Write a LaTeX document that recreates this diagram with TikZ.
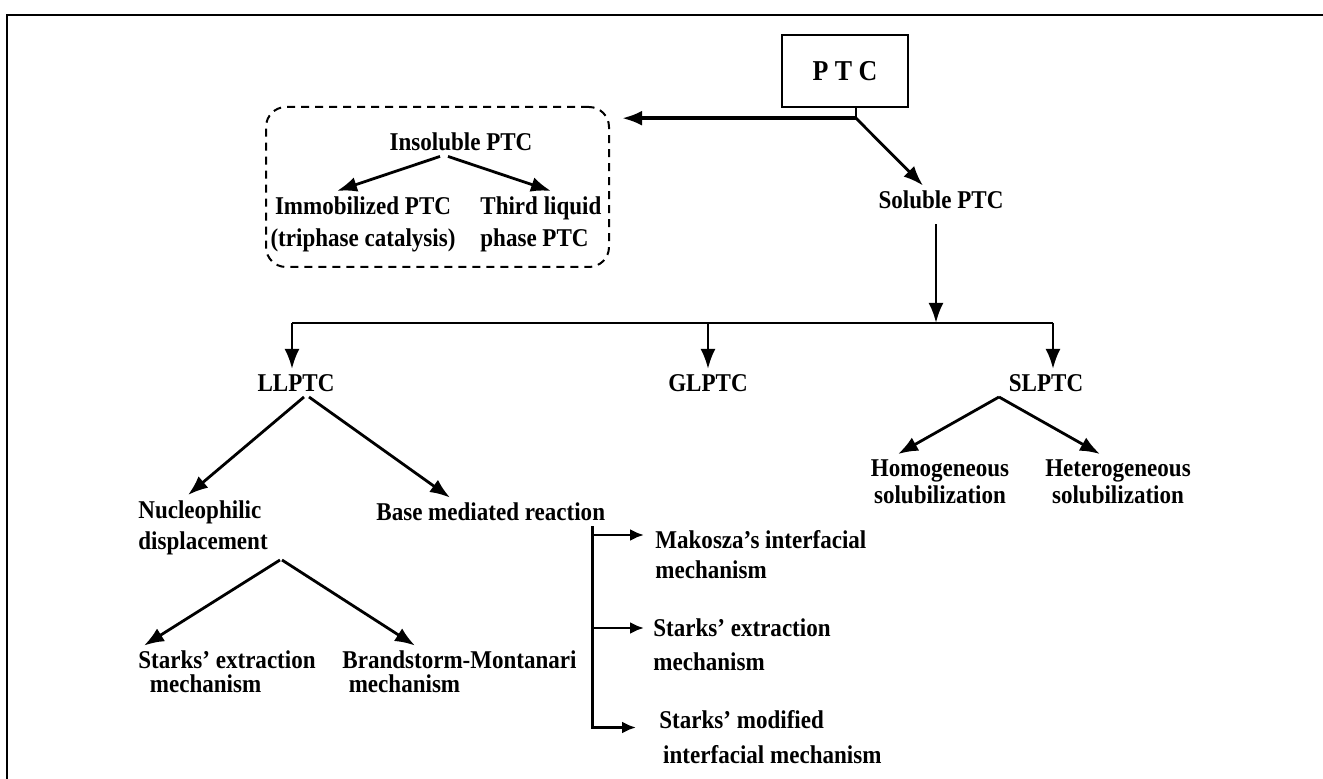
\documentclass[tikz,border=0pt]{standalone}
\usepackage{fontspec}
\setmainfont{Liberation Serif}[FakeStretch=0.9]
\usetikzlibrary{arrows.meta}
\usetikzlibrary{positioning}

\begin{document}
\begin{tikzpicture}[
		x=0.5pt, y=-0.5pt,
		line width=1.4pt,
		txt/.style={font=\fontsize{12.8}{14}\selectfont\bfseries, inner sep=2pt},
		arr/.style={-{Latex[length=10pt,width=7.5pt]}},
		small arr/.style={-{Latex[length=7pt,width=6pt]}},
	]
		\useasboundingbox (0,0) rectangle (1323,779);
		\draw[line width=1pt] (7,779) -- (7,15) -- (1323,15);

		\begin{scope}
			\node (ptc) [draw, line width=1.2pt, minimum width=63pt, minimum height=36pt, font=\fontsize{14.4}{15}\selectfont\bfseries] at (845,71) {P T C};
			\coordinate (split) at ([xshift=5.5pt,yshift=-5pt]ptc.south);

			\node (insolbox) [draw, dashed, dash pattern=on 4pt off 3pt, line width=1pt, rounded corners=10pt, minimum width=171.5pt, minimum height=80pt] at (437.5,187) {};
			\node (insoluble) [txt] at (461,142) {Insoluble PTC};
			\node (immob) [txt, align=center] at (363,224) {Immobilized PTC\\[2pt](triphase catalysis)};
			\node (third) [txt, align=left, anchor=west] at (475,224) {Third liquid\\[2pt]phase PTC};

			\node (soluble) [txt] at (941,200) {Soluble PTC};

			\draw (ptc.south -| split) -- (split);
			\draw[arr, line width=1.8pt, shorten >=6pt] (split) -- (insolbox.east |- split);
			\draw[arr] (split) -- ([xshift=-9pt]soluble.north);

			\draw[arr] ([xshift=-10.5pt]insoluble.south) -- ([xshift=-13pt]immob.north);
			\draw[arr] ([xshift=-6.5pt]insoluble.south) -- ([xshift=38pt]third.north west);
		\end{scope}

		\begin{scope}
			\coordinate (busl) at (292,323);
			\coordinate (busm) at (936,323);
			\coordinate (busr) at (1053,323);

			\node (llptc) [txt] at (296,383) {LLPTC};
			\node (glptc) [txt] at (708,383) {GLPTC};
			\node (slptc) [txt] at (1046,383) {SLPTC};

			\draw[arr, shorten <=5pt] (busm |- soluble.south) -- (busm);
			\draw (busl) -- (busr);
			\draw[arr] (busl) -- (busl |- llptc.north);
			\draw[arr] (glptc.north |- busl) -- (glptc.north);
			\draw[arr] (busr) -- (busr |- slptc.north);
		\end{scope}

		\begin{scope}
			\node (homog) [txt, align=center] at (940,481.5) {Homogeneous\\[-0.5pt]solubilization};
			\node (hetero) [txt, align=center] at (1118,481.5) {Heterogeneous\\[-0.5pt]solubilization};

			\draw[arr] ([xshift=-23.5pt]slptc.south) -- ([xshift=-21pt]homog.north);
			\draw[arr] ([xshift=-23.5pt]slptc.south) -- ([xshift=-9pt]hetero.north);
		\end{scope}

		\begin{scope}
			\node (nucleo) [txt, align=left, anchor=west] at (133,527.5) {Nucleophilic\\[1.5pt]displacement};
			\node (base) [txt, anchor=west] at (371,512) {Base mediated reaction};

			\node (starksa) [txt, align=left, anchor=west] at (133,672) {Starks' extraction\\[-2pt]\hspace{0.45em}mechanism};
			\node (brand) [txt, align=left, anchor=west] at (337,672) {Brandstorm-Montanari\\[-2pt]\hspace{0.25em}mechanism};

			\draw[arr] ([xshift=4pt]llptc.south) -- ([xshift=27.5pt]nucleo.north west);
			\draw[arr] ([xshift=6.5pt]llptc.south) -- ([xshift=39.5pt]base.north west);

			\draw[arr] ([xshift=73.5pt]nucleo.south west) -- ([xshift=5.5pt]starksa.north west);
			\draw[arr] ([xshift=74.5pt]nucleo.south west) -- ([xshift=39pt]brand.north west);
		\end{scope}

		\begin{scope}
			\node (mak) [txt, align=left, anchor=west] at (650,555) {Makosza's interfacial\\[1pt]mechanism};
			\node (sext) [txt, align=left, anchor=west] at (648,645) {Starks' extraction\\[3pt]mechanism};
			\node (smod) [txt, align=left, anchor=west] at (654,737.5) {Starks' modified\\[3.5pt]\hspace{0.15em}interfacial mechanism};

			\coordinate (brk) at ([xshift=-9pt]base.south east);
			\coordinate (makin) at ([yshift=10pt]mak.west);
			\coordinate (sextin) at ([yshift=8.5pt]sext.west);

			\draw[small arr, shorten >=9pt] (brk) |- ([yshift=5pt]smod.west);
			\draw[small arr, shorten >=3pt] (brk |- makin) -- (makin);
			\draw[small arr, shorten >=2pt] (brk |- sextin) -- (sextin);
		\end{scope}
	\end{tikzpicture}
\end{document}
